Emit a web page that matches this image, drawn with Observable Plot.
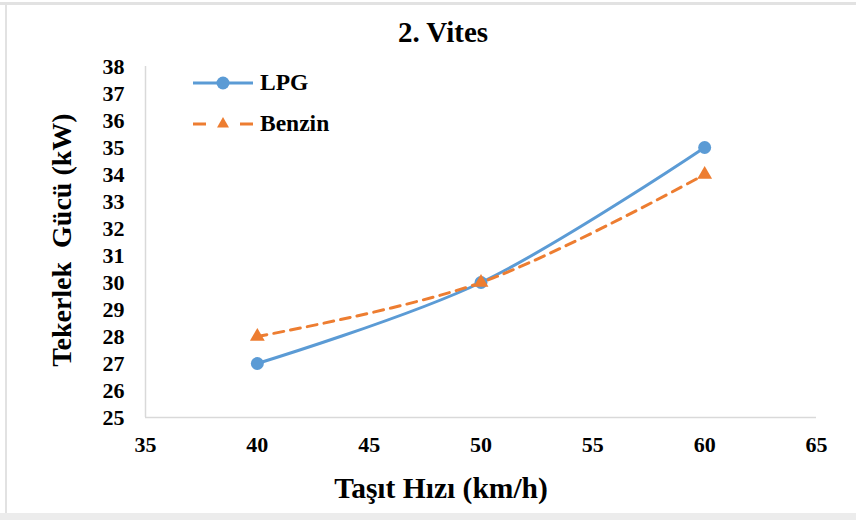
<!DOCTYPE html>
<html>
<head>
<meta charset="utf-8">
<script src="https://cdn.jsdelivr.net/npm/d3@7"></script>
<script src="https://cdn.jsdelivr.net/npm/@observablehq/plot@0.6"></script>
<style>
  html, body { margin: 0; padding: 0; background: #fff; }
  #chart { position: relative; width: 856px; height: 520px; overflow: hidden;
           font-family: "Liberation Serif", "Times New Roman", serif; font-weight: bold; color: #000; }
  .edge { position: absolute; background: #e2e2e2; }
  #plot { position: absolute; left: 0; top: 0; }
  #plot text { font-family: "Liberation Serif", serif; font-weight: bold; }
  .title { position: absolute; top: 18px; left: 0; width: 886px; text-align: center;
           font-size: 29px; line-height: 29px; }
  .xlabel { position: absolute; top: 474px; left: 0; width: 882px; text-align: center;
            font-size: 29.5px; line-height: 29px; }
  .ylabel { position: absolute; left: 62px; top: 240px; transform: translate(-50%, -50%) rotate(-90deg);
            white-space: pre; font-size: 28px; line-height: 28px; }
  .legend { position: absolute; left: 193px; top: 62px; font-size: 23.5px; }
  .legend .row { display: flex; align-items: center; height: 41px; }
  .legend svg { margin-right: 7px; }
</style>
</head>
<body>
<div id="chart">
  <div class="edge" style="left:0;top:2px;width:856px;height:3px"></div>
  <div class="edge" style="left:5px;top:2px;width:2px;height:512px"></div>
  <div class="edge" style="left:0;top:513px;width:856px;height:7px;background:#ececec"></div>
  <div id="plot"></div>
  <div class="title">2. Vites</div>
  <div class="xlabel">Taşıt Hızı (km/h)</div>
  <div class="ylabel">Tekerlek  Gücü (kW)</div>
  <div class="legend" id="legend"></div>
</div>
<script>
// Vehicle speed (km/h) and wheel power (kW) in 2nd gear
const speeds = [40, 50, 60];
const lpgPower = [27, 30, 35];
const benzinPower = [28, 30, 34];
const seriesNames = ["LPG", "Benzin"];
const xTicks = [35, 40, 45, 50, 55, 60, 65];
const yTicks = [25, 26, 27, 28, 29, 30, 31, 32, 33, 34, 35, 36, 37, 38];

const blue = "#5B9BD5";
const orange = "#ED7D31";

const lpgData = speeds.map((s, i) => ({speed: s, power: lpgPower[i]}));
const benzinData = speeds.map((s, i) => ({speed: s, power: benzinPower[i]}));

const chart = Plot.plot({
  width: 856,
  height: 520,
  marginTop: 66,
  marginBottom: 103,
  marginLeft: 145,
  marginRight: 40,
  style: {fontFamily: "'Liberation Serif', serif", fontSize: "22px", fontWeight: "bold", color: "#000", background: "transparent"},
  x: {domain: [35, 65]},
  y: {domain: [25, 38]},
  marks: [
    Plot.ruleX([35], {stroke: "#d9d9d9", strokeWidth: 1.5}),
    Plot.ruleY([25], {stroke: "#d9d9d9", strokeWidth: 1.5}),
    Plot.axisX({ticks: xTicks, tickSize: 0, tickPadding: 19, label: null, fontSize: 22}),
    Plot.axisY({ticks: yTicks, tickSize: 0, tickPadding: 21, label: null, fontSize: 22}),
    Plot.line(lpgData, {x: "speed", y: "power", curve: "catmull-rom", stroke: blue, strokeWidth: 3}),
    Plot.line(benzinData, {x: "speed", y: "power", curve: "catmull-rom", stroke: orange, strokeWidth: 3, strokeDasharray: "10,7"}),
    Plot.dot(lpgData, {x: "speed", y: "power", r: 6.5, fill: blue}),
    Plot.dot(benzinData, {x: "speed", y: "power", symbol: "triangle", r: 5.5, fill: orange})
  ]
});
document.getElementById("plot").appendChild(chart);

// Legend entries: line sample with marker, then the series name
const legend = d3.select("#legend");
const swatches = [
  {name: seriesNames[0], color: blue, dash: null, symbol: d3.symbolCircle, size: 133},
  {name: seriesNames[1], color: orange, dash: "13,34", symbol: d3.symbolTriangle, size: 62}
];
for (const s of swatches) {
  const row = legend.append("div").attr("class", "row");
  const svg = row.append("svg").attr("width", 60).attr("height", 20);
  svg.append("line").attr("x1", 0).attr("x2", 60).attr("y1", 10).attr("y2", 10)
    .attr("stroke", s.color).attr("stroke-width", 3).attr("stroke-dasharray", s.dash);
  svg.append("path").attr("d", d3.symbol(s.symbol, s.size)()).attr("transform", "translate(30,10)").attr("fill", s.color);
  row.append("span").text(s.name);
}
</script>
</body>
</html>
